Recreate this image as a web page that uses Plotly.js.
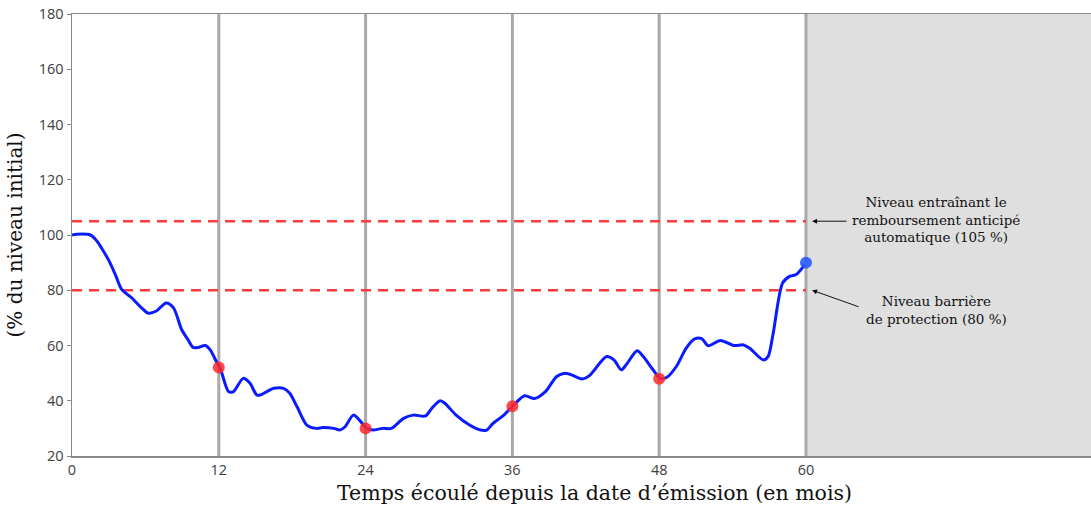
<!DOCTYPE html>
<html>
<head>
<meta charset="utf-8">
<script src="https://cdn.plot.ly/plotly-3.0.1.min.js"></script>
<style>html,body{margin:0;padding:0;background:#fff;}#chart{width:1091px;height:506px;}</style>
</head>
<body>
<div id="chart"></div>
<script>
// Underlying level path (months since issue, % of initial level)
const months = [0,0.4,1.5,2.0,2.4,3.1,3.6,4.06,4.9,5.6,6.24,6.9,7.7,8.3,8.97,9.5,9.9,10.3,10.9,11.3,11.8,12.1,12.8,13.2,14.0,14.55,15.1,15.4,16.5,17.3,17.8,18.4,19.2,20.0,20.5,21.4,21.9,22.3,23.0,23.5,24.1,24.6,25.4,26.1,27.1,27.9,28.9,29.4,30.1,30.5,31.4,32.5,33.4,33.9,34.4,35.3,36.1,37.0,37.8,38.7,39.6,40.2,40.7,41.7,42.3,43.7,44.3,44.9,45.3,46.2,46.7,47.5,48.1,48.6,49.4,50.2,50.9,51.5,52.0,53.0,54.1,54.9,55.4,56.5,56.9,57.3,58.1,58.7,59.2,59.9];
const levels = [100,100.3,100,98,95.4,90,85,80.3,77.2,74,71.7,72.5,75.4,73.6,65.7,62,59.3,59.3,60,58.4,54.2,52,43.3,43.3,48.1,46.3,42.1,42.1,44.5,44.5,42.7,37.8,31.2,30,30.3,30,29.4,30.5,34.8,33,30,29.4,30,30,33.6,34.8,34.5,37.2,40,39,34.8,31.2,29.4,29.4,31.7,34.8,38.4,41.8,40.8,43.3,48.7,49.9,49.6,47.9,49.1,56,54.8,51.2,53,58.1,56,51.2,48.1,48.4,52.4,59,62.4,62.4,59.9,61.8,60,60.2,59,54.8,56,63.9,82.7,85.1,85.7,89.3];

// Observation dates and observed levels
const obsMonths = [12, 24, 36, 48];
const obsLevels = [52, 30, 38, 48];
const finalMonth = [60];
const finalLevel = [90];

// Thresholds
const earlyRedemption = 105;
const barrier = 80;

// Axes
const yTicks = [20,40,60,80,100,120,140,160,180];
const xTicks = [0,12,24,36,48,60];
const checkLines = [12,24,36,48,60];
const xMax = 83.3;

const labelEarly = "Niveau entraînant le<br>remboursement anticipé<br>automatique (105 %)";
const labelBarrier = "Niveau barrière<br>de protection (80 %)";
const xTitle = "Temps écoulé depuis la date d’émission (en mois)";
const yTitle = "(% du niveau initial)";

const serif = "DejaVu Serif";
const sans = "Open Sans";

const traces = [
  {x: months, y: levels, type: 'scatter', mode: 'lines',
   line: {color: '#0a1cff', width: 3, shape: 'spline', smoothing: 0.8},
   hoverinfo: 'skip', showlegend: false},
  {x: obsMonths, y: obsLevels, type: 'scatter', mode: 'markers',
   marker: {color: 'rgba(255,40,40,0.85)', size: 12}, showlegend: false},
  {x: finalMonth, y: finalLevel, type: 'scatter', mode: 'markers',
   marker: {color: 'rgba(40,90,255,0.9)', size: 12}, showlegend: false}
];

const shapes = [];
shapes.push({type: 'rect', xref: 'x', yref: 'paper', x0: finalMonth[0], x1: xMax, y0: 0, y1: 1,
  fillcolor: '#dfdfdf', line: {width: 0}, layer: 'below'});
[earlyRedemption, barrier].forEach(v => shapes.push({type: 'line', xref: 'x', yref: 'y',
  x0: 0, x1: finalMonth[0], y0: v, y1: v, line: {color: '#ff3b3b', width: 2.5, dash: '10px,7px'}, layer: 'below'}));
checkLines.forEach(m => shapes.push({type: 'line', xref: 'x', yref: 'paper',
  x0: m, x1: m, y0: 0, y1: 1, line: {color: '#a9a9a9', width: 3}, layer: 'below'}));

const annotations = [
  {xref: 'paper', yref: 'y', x: 0.848, y: 105.5, text: labelEarly, showarrow: false,
   font: {family: serif, size: 13.5, color: '#111'}, align: 'center', xanchor: 'center', yanchor: 'middle'},
  {xref: 'paper', yref: 'y', x: 0.848, y: 73, text: labelBarrier, showarrow: false,
   font: {family: serif, size: 13.5, color: '#111'}, align: 'center', xanchor: 'center', yanchor: 'middle'},
  {xref: 'x', yref: 'y', x: 60.5, y: earlyRedemption, text: '', showarrow: true,
   ax: 36, ay: 0, arrowhead: 2, arrowsize: 1, arrowwidth: 1, arrowcolor: '#111'},
  {xref: 'x', yref: 'y', x: 60.5, y: barrier, text: '', showarrow: true,
   ax: 48, ay: 17, arrowhead: 2, arrowsize: 1, arrowwidth: 1, arrowcolor: '#111'},
  {xref: 'paper', yref: 'paper', x: 0.513, y: -0.084, text: xTitle, showarrow: false,
   font: {family: serif, size: 20.5, color: '#111'}, xanchor: 'center', yanchor: 'middle'}
];

const layout = {
  width: 1091, height: 506,
  margin: {l: 72, r: 0, t: 14, b: 50},
  paper_bgcolor: '#ffffff', plot_bgcolor: '#ffffff',
  showlegend: false,
  xaxis: {range: [0, xMax], tickvals: xTicks, ticktext: xTicks.map(String),
    showgrid: false, zeroline: false, showline: true, linecolor: '#888', linewidth: 1.5, mirror: true,
    ticks: '', tickfont: {family: sans, size: 14.5, color: '#404040'}},
  yaxis: {range: [20, 180], tickvals: yTicks, ticktext: yTicks.map(String),
    showgrid: false, zeroline: false, showline: true, linecolor: '#888', linewidth: 1.5,
    ticks: 'outside', ticklen: 4, tickcolor: '#888', tickfont: {family: sans, size: 14.5, color: '#404040'},
    title: {text: yTitle, font: {family: serif, size: 20, color: '#111'}, standoff: 10}},
  shapes: shapes,
  annotations: annotations
};

Plotly.newPlot('chart', traces, layout, {displayModeBar: false, staticPlot: true});
</script>
</body>
</html>
